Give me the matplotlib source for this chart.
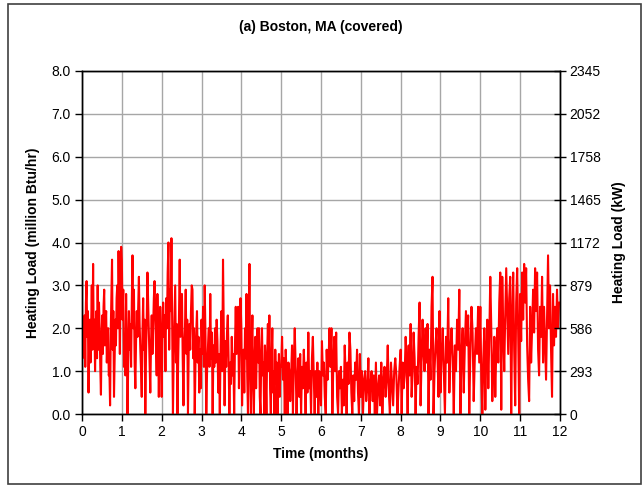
import numpy as np
import matplotlib
matplotlib.use("Agg")
import matplotlib.pyplot as plt
from matplotlib.patches import Rectangle

plt.rcParams['font.family'] = ['Liberation Sans', 'DejaVu Sans']

# Heating load (million Btu/hr), values read per month
m01 = [2.5, 1.3, 2.0, 1.4, 2.3, 1.1, 2.6, 3.1, 1.8, 2.4, 0.5, 1.7, 2.2, 1.2, 2.0, 3.0, 1.5, 3.5, 1.6, 2.2,
       1.0, 1.9, 2.4, 1.3, 3.0, 1.5, 2.6, 2.0, 1.1, 0.45, 1.8, 2.3, 1.4, 2.5, 2.9, 1.6, 2.1, 2.4, 1.2, 1.7,
       2.0, 0.9, 1.0, 0.2, 1.9, 2.8, 3.6, 1.5, 2.4, 0.4, 1.3, 2.2, 1.6, 2.7, 3.0, 2.0, 3.8, 2.5, 1.4, 3.2, 3.9]
m02 = [3.6, 2.2, 2.9, 1.1, 1.8, 0.9, 2.8, 1.6, 0.0, 1.3, 2.4, 1.5, 2.1, 1.1, 2.6, 3.7, 2.0, 2.9, 1.2, 0.6,
       1.7, 2.4, 1.8, 2.5, 3.2, 2.1, 1.5, 1.0, 0.4, 1.9, 2.7, 1.5, 2.2, 0.0, 1.4, 2.2, 3.3, 2.6, 1.8, 1.2,
       0.5, 1.6, 2.3, 1.4, 2.0, 2.7, 3.1, 2.3, 1.6, 0.9, 2.8, 1.7, 0.4, 1.6, 2.5, 1.8]
m03 = [0.4, 1.8, 2.6, 1.8, 2.3, 1.0, 2.7, 2.0, 3.3, 4.0, 1.5, 2.9, 2.4, 4.1, 2.0, 0.0, 1.4, 2.2, 3.0, 1.2,
       2.1, 0.0, 1.3, 2.2, 3.6, 1.8, 2.5, 2.8, 1.3, 0.2, 1.6, 2.0, 2.9, 1.4, 2.2, 0.0, 1.5, 2.1, 1.5, 2.4,
       3.0, 2.9, 1.3, 2.0, 0.0, 1.2, 1.9, 2.4, 1.2, 1.8, 0.5, 1.5, 0.6]
m04 = [2.2, 1.4, 2.5, 1.1, 3.0, 1.8, 0.0, 1.0, 1.5, 2.0, 1.1, 2.8, 1.3, 1.9, 0.0, 1.6, 1.1, 2.0, 1.2, 2.2,
       1.7, 0.5, 1.4, 0.0, 1.6, 2.4, 1.0, 3.6, 1.9, 0.2, 1.7, 1.1, 1.9, 2.3, 1.3, 0.0, 1.2, 0.7, 1.8, 0.9,
       1.4, 0.0, 1.6, 2.5, 1.4, 2.1, 2.5, 0.6, 1.8, 2.7]
m05 = [2.0, 0.2, 1.2, 1.5, 0.5, 2.0, 1.3, 2.8, 0.9, 0.0, 1.9, 3.5, 1.1, 0.0, 1.6, 2.3, 0.7, 0.0, 1.3, 1.8,
       0.6, 1.5, 2.0, 1.2, 2.0, 0.4, 0.0, 1.4, 2.0, 0.9, 1.2, 0.0, 1.6, 0.9, 0.0, 1.4, 2.1, 1.0, 2.3, 0.6,
       0.0, 1.3, 2.0, 0.5, 1.0, 0.0, 1.5, 0.7, 1.2, 0.0, 0.9, 1.4, 0.4, 1.1]
m06 = [1.1, 1.8, 0.8, 1.3, 0.0, 1.5, 0.9, 0.0, 1.2, 1.0, 0.3, 0.9, 1.6, 0.0, 1.2, 2.0, 1.1, 0.0, 0.8, 1.3,
       0.4, 1.4, 0.0, 1.1, 0.6, 1.5, 0.9, 0.0, 1.2, 0.5, 1.9, 0.6, 1.0, 0.0, 1.3, 1.8, 0.9, 0.0, 1.0, 0.4,
       1.2, 0.0, 1.0, 0.7]
m07 = [0.2, 1.7, 0.9, 1.2, 0.4, 0.0, 1.5, 0.8, 1.3, 2.0, 1.1, 2.0, 0.0, 1.2, 1.8, 1.0, 1.9, 0.4, 0.0, 1.0,
       0.6, 1.1, 0.0, 0.8, 0.2, 1.6, 0.9, 0.0, 1.2, 0.7, 1.9, 1.5, 0.5, 0.0, 0.9, 0.3, 1.2, 0.8, 1.5, 0.5,
       0.0, 1.4]
m08 = [0.4, 1.0, 0.0, 0.8, 1.0, 0.3, 0.6, 1.3, 0.0, 0.7, 1.0, 0.3, 0.9, 0.0, 1.2, 0.0, 0.6, 0.9, 0.2, 1.2,
       0.0, 0.8, 1.1, 0.4, 0.8, 1.6, 0.5, 0.0, 1.2, 0.7, 0.2, 1.0, 1.3, 0.9, 0.0, 0.6, 1.1]
m09 = [1.5, 0.0, 1.2, 0.6, 0.9, 1.8, 1.2, 0.0, 1.6, 0.9, 2.1, 0.4, 1.0, 1.9, 1.3, 0.0, 1.1, 0.7, 1.8, 2.6,
       0.2, 1.3, 2.2, 1.4, 1.0, 2.0, 1.2, 2.1, 0.0, 1.5, 0.8, 2.5, 3.2, 0.0, 1.0, 1.6, 2.0, 1.3, 0.4, 2.4]
m10 = [0.5, 1.4, 2.0, 1.0, 0.0, 1.8, 1.2, 2.7, 0.5, 1.5, 2.0, 1.3, 0.0, 1.6, 1.0, 2.2, 1.5, 2.9, 0.0, 1.4,
       2.0, 0.5, 1.6, 2.4, 1.6, 2.3, 0.0, 1.5, 2.5, 1.9, 0.3, 1.3, 2.0, 1.4, 2.5, 1.2]
m11 = [2.5, 0.8, 0.0, 1.3, 2.0, 0.1, 1.5, 2.2, 0.6, 1.8, 3.2, 2.0, 0.3, 1.0, 1.8, 0.4, 1.5, 2.0, 1.2, 2.6,
       3.3, 0.1, 3.2, 2.0, 1.0, 2.3, 3.4, 2.4, 1.4, 2.7, 3.2, 0.0, 2.2, 3.3, 1.5, 0.2, 2.6, 3.4, 1.9, 0.0]
m12 = [2.8, 1.7, 3.3, 2.2, 3.5, 2.6, 3.4, 1.6, 0.8, 0.3, 2.5, 1.2, 2.0, 2.9, 1.9, 3.4, 2.4, 3.3, 1.5, 0.9,
       2.5, 1.8, 3.2, 1.2, 2.5, 1.6, 0.8, 2.2, 3.7, 2.0, 3.0, 1.5, 0.4, 2.8, 1.6, 2.5, 1.8, 2.9, 2.0, 2.6]
months_data = [m01, m02, m03, m04, m05, m06, m07, m08, m09, m10, m11, m12]

left_ticks = [0, 1, 2, 3, 4, 5, 6, 7, 8]
left_labels = ["0.0", "1.0", "2.0", "3.0", "4.0", "5.0", "6.0", "7.0", "8.0"]
kw_labels = ["0", "293", "586", "879", "1172", "1465", "1758", "2052", "2345"]
x_ticks = list(range(13))

# Build time axis: values spread evenly within each month
t_all, y_all = [], []
for i, vals in enumerate(months_data):
    n = len(vals)
    t_all.extend(i + np.arange(n) / n)
    y_all.extend(vals)
t_all.append(12.0)
y_all.append(months_data[-1][-1])

fig = plt.figure(figsize=(6.44, 4.88), dpi=100)
fig.patches.append(Rectangle((8 / 644, 4 / 488), 633 / 644, 480 / 488, transform=fig.transFigure,
                             fill=False, edgecolor='#404040', linewidth=1.2))

ax = fig.add_axes([82 / 644, 74 / 488, 478 / 644, 343 / 488])
ax.plot(t_all, y_all, color='#FF0000', linewidth=1.5, zorder=3)
ax.set_xlim(0, 12)
ax.set_ylim(0, 8)
ax.set_xticks(x_ticks)
ax.set_xticklabels([str(v) for v in x_ticks], fontsize=10)
ax.set_yticks(left_ticks)
ax.set_yticklabels(left_labels, fontsize=10)
ax.grid(True, color='#a6a6a6', linewidth=1.0, zorder=0)
ax.set_axisbelow(True)
for s in ax.spines.values():
    s.set_color('black')
    s.set_linewidth(1.0)
ax.tick_params(axis='both', direction='out', length=5, width=1, color='black', pad=3)
ax.set_xlabel("Time (months)", fontsize=10, fontweight='bold', labelpad=6)
ax.set_ylabel("Heating Load (million Btu/hr)", fontsize=10, fontweight='bold', labelpad=8)
ax.set_title("(a) Boston, MA (covered)", fontsize=10, fontweight='bold', pad=29)

ax2 = ax.twinx()
ax2.set_ylim(0, 8)
ax2.set_yticks(left_ticks)
ax2.set_yticklabels(kw_labels, fontsize=10)
ax2.tick_params(axis='y', direction='inout', length=8, width=1, color='black', pad=3)
ax2.set_ylabel("Heating Load (kW)", fontsize=10, fontweight='bold', labelpad=8)
for s in ax2.spines.values():
    s.set_color('black')
    s.set_linewidth(1.0)

fig.savefig("out.png", dpi=100)
